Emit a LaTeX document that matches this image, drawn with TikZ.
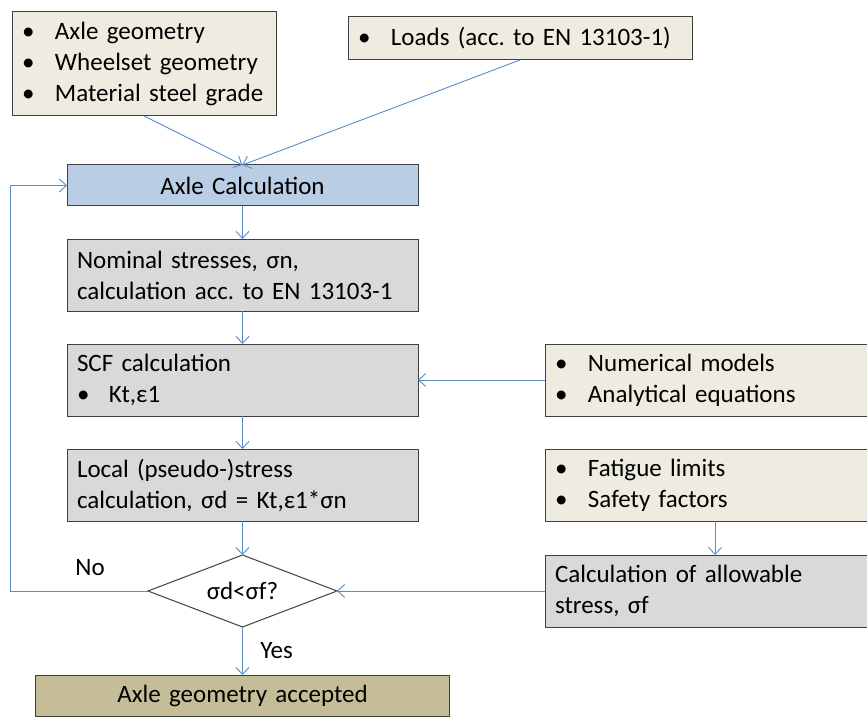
\documentclass[tikz,border=0pt]{standalone}
\usepackage{fontspec}
\setmainfont{Carlito}
\usetikzlibrary{shapes.geometric, arrows.meta, positioning}
\definecolor{inputfill}{HTML}{EEECE1}
\definecolor{procfill}{HTML}{D9D9D9}
\definecolor{startfill}{HTML}{B9CDE5}
\definecolor{endfill}{HTML}{C4BD97}
\definecolor{linecol}{HTML}{5B8CC8}
\definecolor{edgecol}{HTML}{404040}
\tikzstyle{block} = [rectangle, draw=edgecol, line width=1pt, align=left, inner sep=0pt, outer sep=0pt]
\tikzstyle{process} = [block, fill=procfill, minimum width=351pt, minimum height=72pt, text width=331pt]
\tikzstyle{input} = [block, fill=inputfill]
\tikzstyle{decision} = [diamond, aspect=2.6, draw=edgecol, line width=1pt, fill=white, minimum width=189pt, minimum height=72pt, inner sep=0pt, outer sep=0pt]
\tikzstyle{arrow} = [draw=linecol, line width=0.9pt, -{Straight Barb[length=7pt,width=13pt]}]
\newcommand{\bul}{\makebox[33pt][l]{•}}

\begin{document}
\frenchspacing
\begin{tikzpicture}[
    x=1pt, y=1pt,
    every node/.style={font=\fontsize{25}{31}\selectfont}
]
    \clip (0,0) rectangle (867,-722);

    \node[input, minimum width=264pt, minimum height=104pt, text width=244pt] (geometry) at (144,-64)
        {\bul Axle geometry\\\bul Wheelset geometry\\\bul Material steel grade};
    \node[input, minimum width=344pt, minimum height=43pt, text width=324pt] (loads) at (520,-38.5)
        {\bul Loads (acc. to EN 13103-1)};

    \node[process, fill=startfill, align=center, minimum height=41pt] (axlecalc) at (242.5,-185.5) {Axle Calculation};
    \node[process, below=33pt of axlecalc] (nominal) {Nominal stresses, σn,\\calculation acc. to EN 13103-1};
    \node[process, below=33pt of nominal] (scf) {SCF calculation\\\makebox[32pt][l]{•}Kt,ε1};
    \node[process, below=33pt of scf] (local) {Local (pseudo-)stress\\calculation, σd = Kt,ε1*σn};
    \node[decision, below=34pt of local] (check) {σd<σf?};
    \node[process, fill=endfill, align=center, minimum width=414pt, minimum height=41pt, below=48pt of check] (accepted) {Axle geometry accepted};

    \node[input, minimum width=340pt, minimum height=72pt, text width=320pt, right=127pt of scf] (models)
        {\bul Numerical models\\\bul Analytical equations};
    \node[input, minimum width=340pt, minimum height=72pt, text width=320pt, below=33pt of models] (limits)
        {\bul Fatigue limits\\\bul Safety factors};
    \node[process, minimum width=340pt, text width=320pt, below=34pt of limits] (allowable)
        {Calculation of allowable\\stress, σf};

    \path[arrow] (geometry.south) -- (axlecalc.north);
    \path[arrow] (loads.south) -- (axlecalc.north);
    \path[arrow] (axlecalc) -- (nominal);
    \path[arrow] (nominal) -- (scf);
    \path[arrow] (scf) -- (local);
    \path[arrow] (local) -- (check);
    \path[arrow] (check)
        -- node [right=14pt] (yeslbl) {Yes}
        (accepted);
    \path[arrow] (models) -- (scf);
    \path[arrow] (limits) -- (allowable);
    \path[arrow] (allowable) -- (check);
    \path[arrow] (check.west)
        -- node [pos=0.42, above=12pt] (nolbl) {No}
        ++(-138,0) |- (axlecalc.west);
\end{tikzpicture}
\end{document}
